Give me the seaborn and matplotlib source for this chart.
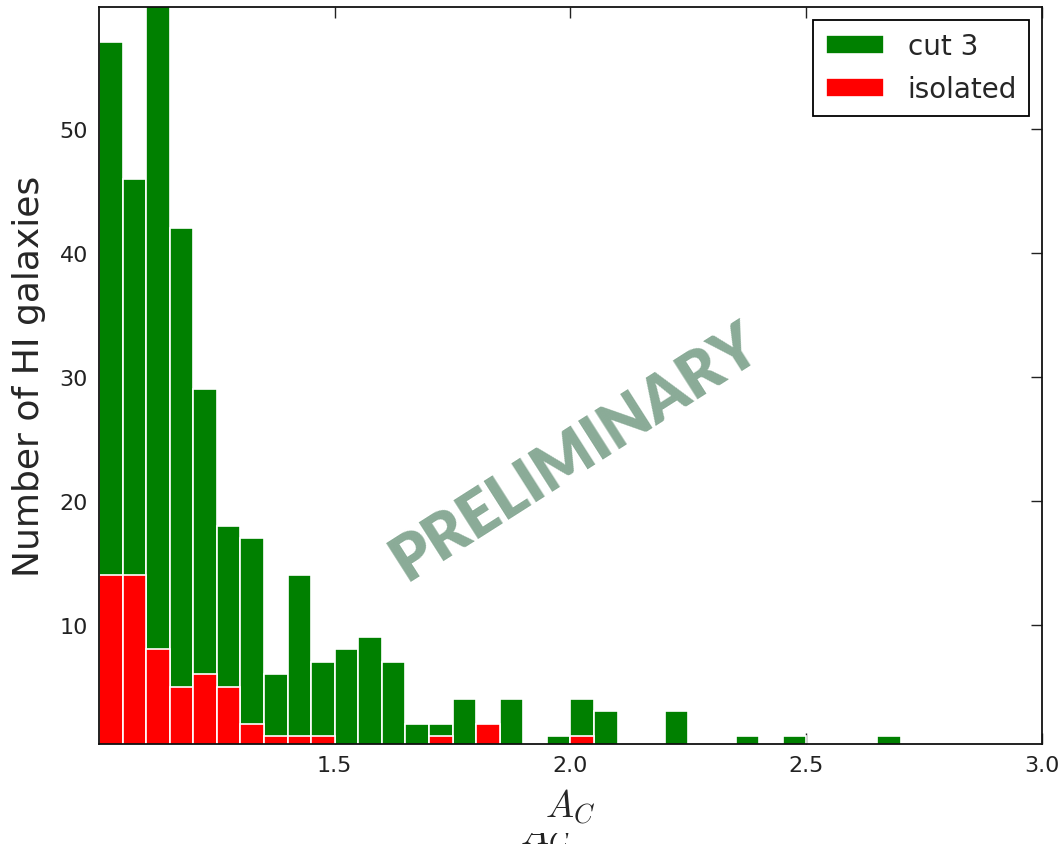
import numpy as np
import pandas as pd
import matplotlib
matplotlib.use("Agg")
import matplotlib.pyplot as plt
import seaborn as sns
from matplotlib.transforms import Bbox

# ---- data (counts per bin) ----
bin_start = 1.0
bin_width = 0.05
n_bins = 34
cut3_counts = [57, 46, 60, 42, 29, 18, 17, 6, 14, 7, 8, 9, 7, 2, 2, 4, 0, 4, 0, 1,
               4, 3, 0, 0, 3, 0, 0, 1, 0, 1, 0, 0, 0, 1]
isolated_counts = [14, 14, 8, 5, 6, 5, 2, 1, 1, 1, 0, 0, 0, 0, 1, 0, 2, 0, 0, 0,
                   1, 0, 0, 0, 0, 0, 0, 0, 0, 0, 0, 0, 0, 0]
series_labels = ["cut 3", "isolated"]
xticks = [1.5, 2.0, 2.5, 3.0]
yticks = [10, 20, 30, 40, 50]

edges = (bin_start + bin_width * np.arange(n_bins + 1)).tolist()
centers = [(a + b) / 2 for a, b in zip(edges[:-1], edges[1:])]
df_cut3 = pd.DataFrame({"A_C": centers, "count": cut3_counts})
df_iso = pd.DataFrame({"A_C": centers, "count": isolated_counts})

sns.set_style("ticks")
plt.rcParams['font.family'] = ['DejaVu Sans']
plt.rcParams['mathtext.fontset'] = 'cm'

fig = plt.figure(figsize=(10.6, 8.45), dpi=100)
ax = fig.add_axes([0.0934, 0.1183, 0.8896, 0.8722])

sns.histplot(data=df_cut3, x="A_C", weights="count", bins=edges, color="#008000", alpha=1,
             edgecolor="white", linewidth=1.2, label=series_labels[0], ax=ax)
sns.histplot(data=df_iso, x="A_C", weights="count", bins=edges, color="#ff0000", alpha=1,
             edgecolor="white", linewidth=1.2, label=series_labels[1], ax=ax)

ax.set_axisbelow(True)
ax.set_xlim(1.0, 3.0)
ax.set_ylim(0.37, 59.85)
ax.set_xticks(xticks)
ax.set_xticklabels([f"{t:.1f}" for t in xticks])
ax.set_yticks(yticks)
ax.tick_params(direction="in", length=8, width=1, top=True, right=True,
               labelsize=16, pad=8, colors="#222222", labelcolor="#222222")
for s in ax.spines.values():
    s.set_visible(True)
    s.set_linewidth(1.3)
    s.set_color("#111111")
    s.set_zorder(5)

ax.set_xlabel(r"$A_C$", fontsize=27, labelpad=8)
ax.set_ylabel("Number of HI galaxies", fontsize=26, labelpad=10)

leg = ax.legend(loc="upper right", fontsize=20, handlelength=2.1, handleheight=0.65,
                fancybox=False, framealpha=1, edgecolor="black",
                borderaxespad=0.45, borderpad=0.45, handletextpad=0.85, labelspacing=0.55)
leg.get_frame().set_linewidth(1.3)

fig.text(0.543, 0.465, "PRELIMINARY", rotation=32.5, rotation_mode="anchor",
         ha="center", va="center", fontsize=45, fontweight="heavy",
         family=["Lato", "DejaVu Sans"], color="#8aab97", zorder=20)

# stray duplicate label at the bottom edge, only its lower part visible
t = fig.text(0.4906, 0.0, r"$A_C$", fontsize=27, color="#222222",
             ha="left", va="baseline")
t.set_clip_box(Bbox([[0, 0], [1060, 11]]))
t.set_clip_on(True)

fig.savefig("out.png", dpi=100)
